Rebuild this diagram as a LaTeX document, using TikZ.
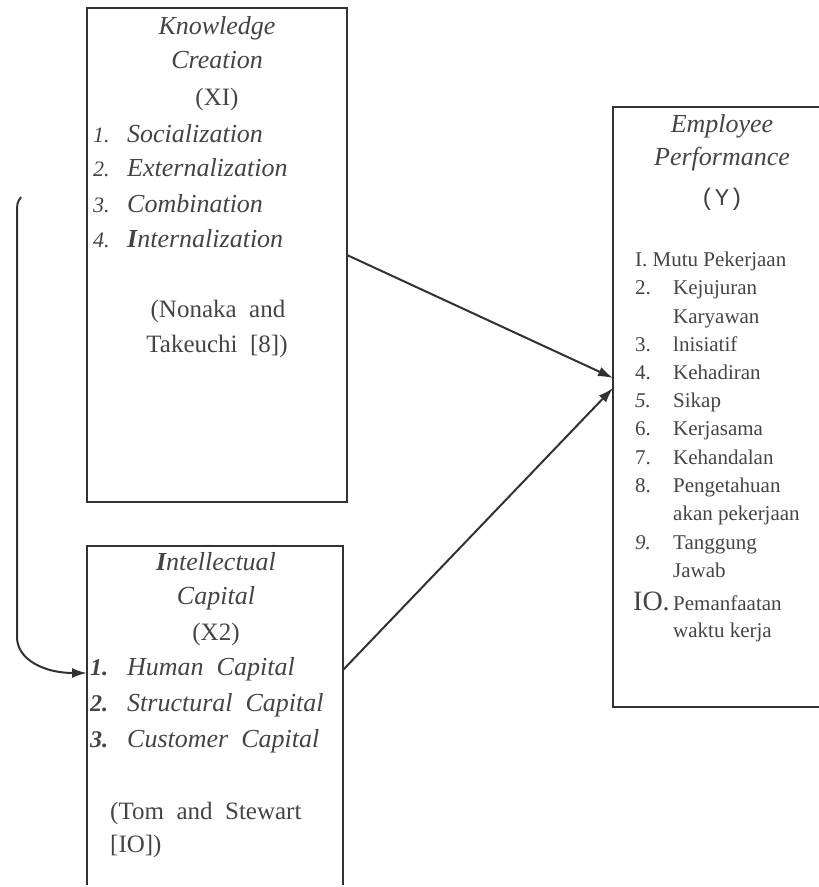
\documentclass[tikz,border=0pt]{standalone}
\usepackage{fontspec}
\setmainfont{Liberation Serif}
\newfontfamily\typewr{Liberation Mono}
\usetikzlibrary{arrows.meta,positioning}
\definecolor{inkgray}{RGB}{68,68,68}
\definecolor{framegray}{RGB}{50,50,50}
\tikzset{
  boxframe/.style={draw=framegray,line width=2.4pt},
  boxarea/.style={inner sep=0pt,outer sep=0pt},
  varhead/.style={anchor=mid,inner sep=0pt,text=inkgray,font=\fontsize{26}{30}\selectfont\itshape},
  varcode/.style={anchor=mid,inner sep=0pt,text=inkgray,font=\fontsize{25}{30}\selectfont},
  itemnum/.style={anchor=mid west,inner sep=0pt,text=inkgray,font=\fontsize{22}{26}\selectfont\itshape},
  itemtxt/.style={anchor=mid west,inner sep=0pt,text=inkgray,font=\fontsize{26}{30}\selectfont\itshape},
  source/.style={anchor=mid west,inner sep=0pt,text=inkgray,font=\fontsize{25}{30}\selectfont},
  indic/.style={anchor=mid west,inner sep=0pt,text=inkgray,font=\fontsize{21}{25}\selectfont},
  link/.style={draw=framegray,line width=2pt,-{Latex[length=15pt,width=10pt]}}
}

\begin{document}
\begin{tikzpicture}[x=1pt,y=-1pt]
\useasboundingbox (0,0) rectangle (819,887);

% Boxes
\node[boxarea,minimum width=260pt,minimum height=494pt] (kc) at (217,255) {};
\node[boxarea,minimum width=256pt,minimum height=339pt] (ic) at (215,715.5) {};
\node[boxarea,minimum width=206pt,minimum height=600pt] (ep) at (716,407) {};
\draw[boxframe] (kc.north west) rectangle (kc.south east);
\draw[boxframe] (ic.south west) |- (ic.north east) -- (ic.south east);
\draw[boxframe] (ep.north east) -- (ep.north west) -- (ep.south west) -- (ep.south east);

% Knowledge Creation (X1)
\node[varhead] (kc-t1) at (217,32) {Knowledge};
\node[varhead] (kc-t2) at (217,66) {Creation};
\node[varcode] (kc-t3) at (217,103) {(XI)};
\foreach \i/\txt/\y in {1/Socialization/140, 2/Externalization/174,
    3/Combination/210, 4/{\textbf{I}nternalization}/245} {
    \node[itemnum] (kc-n\i) at (93,\y) {\i.};
    \node[itemtxt] (kc-i\i) at (127,\y) {\txt};
}
\node[varcode] (kc-s1) at (218,315) {(Nonaka\ \ and};
\node[varcode] (kc-s2) at (217,350) {Takeuchi\ \ [8])};

% Intellectual Capital (X2)
\node[varhead] (ic-t1) at (216,568) {\textbf{I}ntellectual};
\node[varhead] (ic-t2) at (216,602) {Capital};
\node[varcode] (ic-t3) at (216,638) {(X2)};
\foreach \i/\txt/\y in {1/{Human\ \ Capital}/673, 2/{Structural\ \ Capital}/709,
    3/{Customer\ \ Capital}/745} {
    \node[itemnum,font=\fontsize{24}{28}\selectfont\bfseries\itshape] (ic-n\i) at (90,\y) {\i.};
    \node[itemtxt] (ic-i\i) at (127,\y) {\txt};
}
\node[source] (ic-s1) at (110,817) {(Tom\ \ and\ \ Stewart};
\node[source] (ic-s2) at (110,850) {[IO])};

% Employee Performance (Y)
\node[varhead] (ep-t1) at (722,130) {Employee};
\node[varhead] (ep-t2) at (722,163) {Performance};
\node[varcode,font=\fontsize{24}{28}\typewr] (ep-t3) at (722,203) {(Y)};
\node[indic] (ep-i1) at (635,264) {I. Mutu Pekerjaan};
\foreach \i/\num/\y in {2/2./292, 3/3./349, 4/4./377, 5/\textit{5.}/405, 6/6./433,
    7/7./462, 8/8./490, 9/\textit{9.}/547} {
    \node[indic] (ep-n\i) at (635,\y) {\num};
}
\node[indic,font=\fontsize{28}{30}\selectfont] (ep-n10) at (633,608) {IO.};
\foreach \k/\txt/\y in {a/Kejujuran/292, b/Karyawan/321, c/lnisiatif/349,
    d/Kehadiran/377, e/Sikap/405, f/Kerjasama/433, g/Kehandalan/462,
    h/Pengetahuan/490, i/{akan pekerjaan}/518, j/Tanggung/547, k/Jawab/575,
    l/Pemanfaatan/608, m/{waktu kerja}/635} {
    \node[indic] (ep-l\k) at (673,\y) {\txt};
}

% Arrows
\coordinate (ic-out) at (343,670);
\coordinate (ep-in1) at ([yshift=29pt]ep.west);
\coordinate (ep-in2) at ([yshift=19pt]ep.west);
\draw[link] (kc.east) -- (ep-in1);
\draw[link] (ic-out) -- (ep-in2);

% Feedback line into Human Capital
\coordinate (fb-start) at (21,197);
\coordinate (ic-in) at (87,673);
\draw[link] (fb-start) .. controls (17,203) .. (17,215) -- (17,637)
    .. controls (17,660) and (45,673) .. (ic-in);

\end{tikzpicture}
\end{document}
